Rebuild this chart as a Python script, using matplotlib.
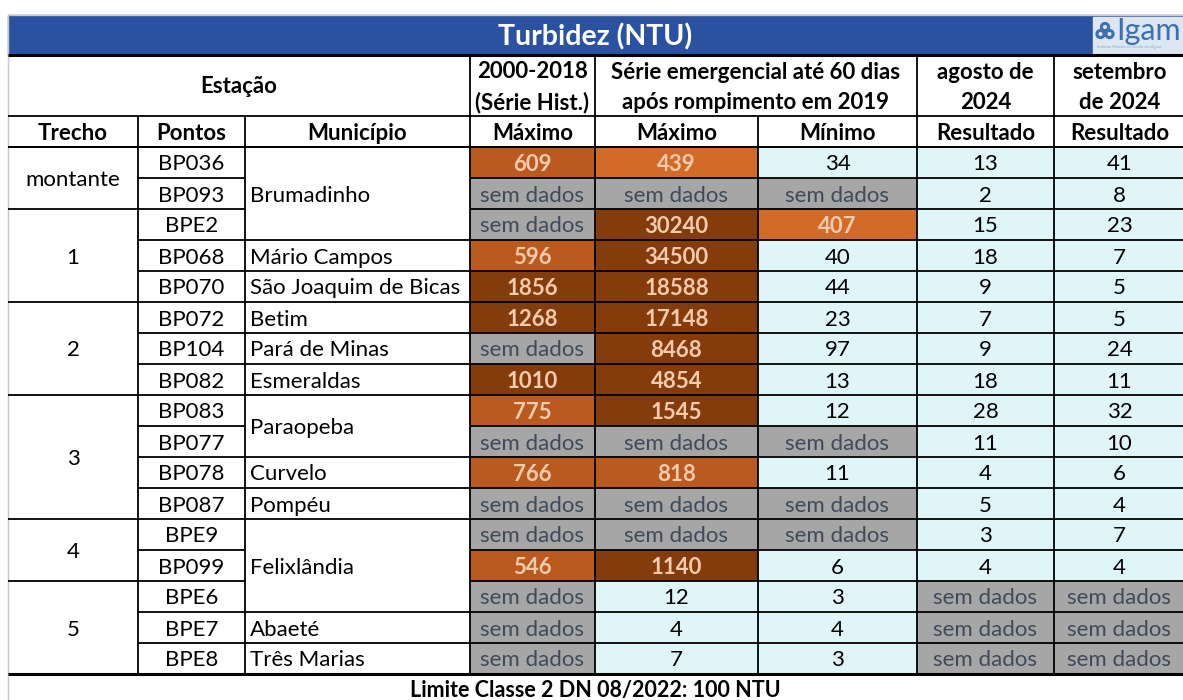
import matplotlib
matplotlib.use("Agg")
import matplotlib.pyplot as plt
from matplotlib.patches import Rectangle, Circle

plt.rcParams['font.family'] = ['Lato', 'DejaVu Sans']

title = "Turbidez (NTU)"
footer = "Limite Classe 2 DN 08/2022: 100 NTU"

trecho_groups = [("montante", 2), ("1", 3), ("2", 3), ("3", 4), ("4", 2), ("5", 3)]
pontos = ["BP036", "BP093", "BPE2", "BP068", "BP070", "BP072", "BP104", "BP082",
          "BP083", "BP077", "BP078", "BP087", "BPE9", "BP099", "BPE6", "BPE7", "BPE8"]
municipio_groups = [("Brumadinho", 3), ("Mário Campos", 1), ("São Joaquim de Bicas", 1),
                    ("Betim", 1), ("Pará de Minas", 1), ("Esmeraldas", 1), ("Paraopeba", 2),
                    ("Curvelo", 1), ("Pompéu", 1), ("Felixlândia", 3), ("Abaeté", 1),
                    ("Três Marias", 1)]

hist_max = [609, None, None, 596, 1856, 1268, None, 1010, 775, None, 766, None, None, 546, None, None, None]
emerg_max = [439, None, 30240, 34500, 18588, 17148, 8468, 4854, 1545, None, 818, None, None, 1140, 12, 4, 7]
emerg_min = [34, None, 407, 40, 44, 23, 97, 13, 12, None, 11, None, None, 6, 3, 4, 3]
ago_2024 = [13, 2, 15, 18, 9, 7, 9, 18, 28, 11, 4, 5, 3, 4, None, None, None]
set_2024 = [41, 8, 23, 7, 5, 5, 24, 11, 32, 10, 6, 4, 7, 4, None, None, None]

header_top = ["Estação", "2000-2018\n(Série Hist.)", "Série emergencial até 60 dias\napós rompimento em 2019",
              "agosto de\n2024", "setembro\nde 2024"]
header_sub = ["Trecho", "Pontos", "Município", "Máximo", "Máximo", "Mínimo", "Resultado", "Resultado"]

limit = 100
NO_DATA = "sem dados"

# ---- layout (pixels) ----
W, H = 1183, 700
col_x = [8, 138, 245, 470, 595, 758, 917, 1054, 1185]
y_title0, y_title1 = 15, 55
y_h1 = 116
y_h2 = 147
row_h = 31
n = len(pontos)
y_end = y_h2 + n * row_h

C_BLUE = "#2A52A0"
C_DARK = "#843C0C"
C_MID = "#BA5A1E"
C_LIGHT = "#D26B28"
C_GREY = "#A6A6A6"
C_CYAN = "#DFF5F8"
T_PEACH = "#F8CBAD"
T_GREY = "#404A58"

FS = 16

fig = plt.figure(figsize=(W / 100, H / 100), dpi=100)
ax = fig.add_axes([0, 0, 1, 1])
ax.set_xlim(0, W)
ax.set_ylim(H, 0)
ax.axis("off")


def line(x0, y0, x1, y1, lw=1.3, c="black"):
    ax.plot([x0, x1], [y0, y1], color=c, lw=lw, solid_capstyle="butt", zorder=3)


def cell_style(v):
    if v is None:
        return C_GREY, T_GREY, "normal", NO_DATA
    if v > 1000:
        return C_DARK, T_PEACH, "bold", str(v)
    if v > 500:
        return C_MID, T_PEACH, "bold", str(v)
    if v > limit:
        return C_LIGHT, T_PEACH, "bold", str(v)
    return C_CYAN, "black", "normal", str(v)


# title bar
ax.add_patch(Rectangle((col_x[0], y_title0), W - col_x[0], y_title1 - y_title0, color=C_BLUE, zorder=1))
ax.text((col_x[0] + W) / 2, (y_title0 + y_title1) / 2 + 2, title, color="white", fontsize=20.5,
        fontweight="bold", ha="center", va="center", zorder=4)
line(col_x[0], y_title0, W, y_title0, lw=1, c="#C8C8C8")
line(col_x[0], y_title0, col_x[0], H, lw=1, c="#C8C8C8")

# logo
ax.add_patch(Rectangle((1093, 17), W - 1093, 36, color="#DCE7F3", zorder=2))
for cx, cy in [(1105, 27), (1100.5, 34), (1109.5, 34)]:
    ax.add_patch(Circle((cx, cy), 3.6, fill=False, ec="#3E6FB0", lw=2.2, zorder=4))
ax.text(1116, 31, "Igam", color="#3E6FB0", fontsize=22, ha="left", va="center", zorder=4)
ax.text(1097, 47, "Instituto Mineiro de Gestão das Águas", color="#8FA8C8", fontsize=2.8,
        ha="left", va="center", zorder=4)

# header texts
ax.text((col_x[0] + col_x[3]) / 2, (y_title1 + y_h1) / 2 + 1, header_top[0], fontsize=FS,
        fontweight="bold", ha="center", va="center", zorder=4)
spans = [(3, 4), (4, 6), (6, 7), (7, 8)]
for (a, b), txt in zip(spans, header_top[1:]):
    ax.text((col_x[a] + col_x[b]) / 2, (y_title1 + y_h1) / 2 + 2, txt, fontsize=FS,
            fontweight="bold", ha="center", va="center", linespacing=1.55, zorder=4)
for i, txt in enumerate(header_sub):
    ax.text((col_x[i] + col_x[i + 1]) / 2, (y_h1 + y_h2) / 2 + 2, txt, fontsize=FS,
            fontweight="bold", ha="center", va="center", zorder=4)

# header lines
line(col_x[0], y_title1, W, y_title1, lw=2.2)
line(col_x[0], y_h1, W, y_h1)
line(col_x[0], y_h2, W, y_h2)
for i in [3, 4, 6, 7]:
    line(col_x[i], y_title1, col_x[i], y_end)
for i in [1, 2, 5]:
    line(col_x[i], y_h1, col_x[i], y_end)

# data cells
value_cols = [hist_max, emerg_max, emerg_min, ago_2024, set_2024]
for r in range(n):
    y0 = y_h2 + r * row_h
    yc = y0 + row_h / 2 + 2
    # pontos
    ax.text((col_x[1] + col_x[2]) / 2, yc, pontos[r], fontsize=FS, ha="center", va="center", zorder=4)
    line(col_x[1], y0, col_x[2], y0)
    for k, vals in enumerate(value_cols):
        xa, xb = col_x[3 + k], col_x[4 + k]
        fc, tc, fw, s = cell_style(vals[r])
        ax.add_patch(Rectangle((xa, y0), xb - xa, row_h, color=fc, zorder=1))
        ax.text((xa + xb) / 2, yc, s, fontsize=FS, color=tc, fontweight=fw,
                ha="center", va="center", zorder=4)
        line(xa, y0, xb, y0)

# trecho groups
r = 0
for name, cnt in trecho_groups:
    y0 = y_h2 + r * row_h
    line(col_x[0], y0, col_x[1], y0)
    ax.text((col_x[0] + col_x[1]) / 2, y0 + cnt * row_h / 2 + 2, name, fontsize=FS,
            ha="center", va="center", zorder=4)
    r += cnt

# municipio groups
r = 0
for name, cnt in municipio_groups:
    y0 = y_h2 + r * row_h
    line(col_x[2], y0, col_x[3], y0)
    ax.text(col_x[2] + 5, y0 + cnt * row_h / 2 + 2, name, fontsize=FS,
            ha="left", va="center", zorder=4)
    r += cnt

line(col_x[0], y_end, W, y_end, lw=2.2)

ax.text((col_x[0] + W) / 2, (y_end + H) / 2 + 3, footer, fontsize=15.5, fontweight="bold",
        ha="center", va="center", zorder=4)

fig.savefig("out.png", dpi=100)
